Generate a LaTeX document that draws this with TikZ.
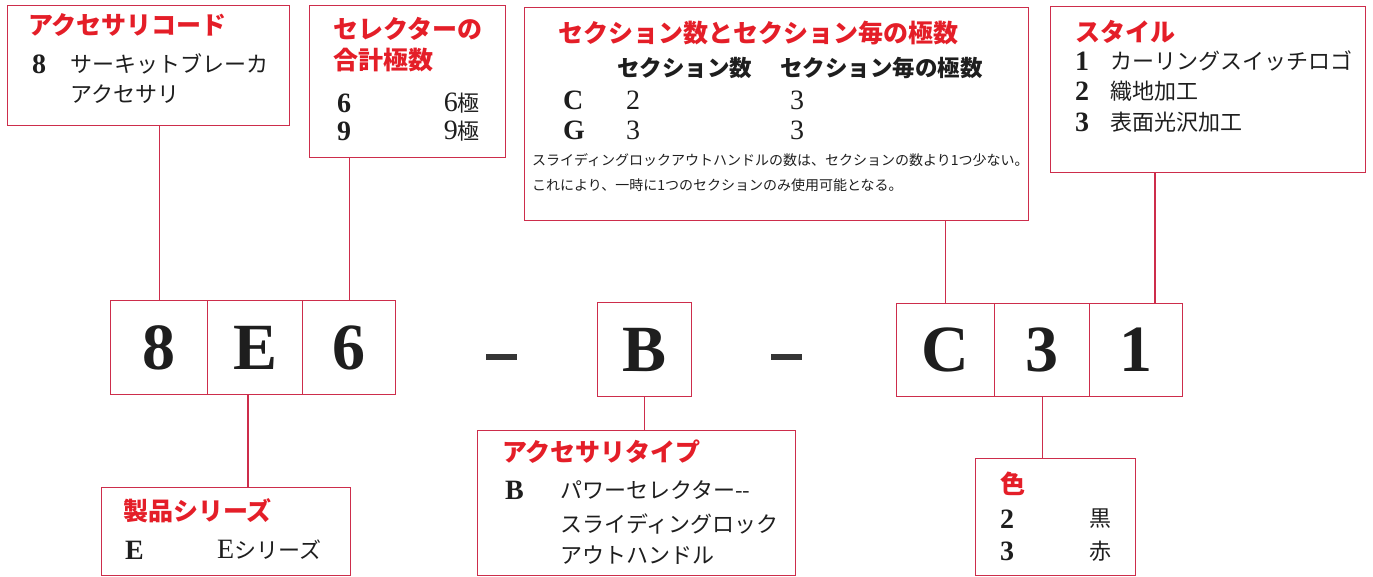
\documentclass[tikz,border=0pt]{standalone}
\usepackage{fontspec}
\setmainfont{Liberation Serif}
\newfontfamily\jp{Noto Sans CJK JP}
\definecolor{bd}{RGB}{205,45,75}
\definecolor{rt}{RGB}{228,30,40}
\definecolor{ink}{RGB}{30,30,30}
\tikzset{
  frame/.style={draw=bd, line width=1.4pt, inner sep=0pt, anchor=north west},
  cell/.style={frame, font=\bfseries\fontsize{66}{66}\selectfont, text=ink},
  conn/.style={draw=bd, line width=1.4pt},
  ttl/.style={text=rt, font=\jp\bfseries\fontsize{25}{25}\selectfont, anchor=west, inner sep=0pt},
  txt/.style={text=ink, font=\jp\fontsize{22}{22}\selectfont, anchor=west, inner sep=0pt},
  sub/.style={text=ink, font=\jp\bfseries\fontsize{22.5}{22.5}\selectfont, anchor=west, inner sep=0pt},
  small/.style={text=ink, font=\jp\fontsize{14}{14}\selectfont, anchor=west, inner sep=0pt},
  key/.style={text=ink, font=\bfseries\fontsize{28}{28}\selectfont, anchor=west, inner sep=0pt},
  val/.style={text=ink, font=\fontsize{28}{28}\selectfont, inner sep=0pt},
  dashbar/.style={fill=ink!90, inner sep=0pt, minimum width=31pt, minimum height=6pt},
}
\begin{document}
\begin{tikzpicture}[x=1pt,y=-1pt]
\useasboundingbox (0,0) rectangle (1373,577);
% top boxes
\node[frame, minimum width=282pt, minimum height=120pt] (b1) at (7,5) {};
\node[ttl] (b1t) at (28,25) {アクセサリコード};
\node[key] (b1k) at (32,64) {8};
\node[txt] (b1a) at (70,64) {サーキットブレーカ};
\node[txt] (b1b) at (70,94) {アクセサリ};

\node[frame, minimum width=196pt, minimum height=152pt] (b2) at (309,5) {};
\node[ttl] (b2t1) at (333,29) {セレクターの};
\node[ttl] (b2t2) at (333,60) {合計極数};
\node[key] (b2k1) at (337,103) {6};
\node[val, anchor=east] (b2v1) at (480,103) {6{\jp\fontsize{22}{22}\selectfont 極}};
\node[key] (b2k2) at (337,131) {9};
\node[val, anchor=east] (b2v2) at (480,131) {9{\jp\fontsize{22}{22}\selectfont 極}};

\node[frame, minimum width=504pt, minimum height=213pt] (b3) at (524,7) {};
\node[ttl] (b3t) at (558,33) {セクション数とセクション毎の極数};
\node[sub] (b3h1) at (617,68) {セクション数};
\node[sub] (b3h2) at (780,68) {セクション毎の極数};
\node[key] (b3k1) at (563,100) {C};
\node[val] (b3a1) at (633,100) {2};
\node[val] (b3b1) at (797,100) {3};
\node[key] (b3k2) at (563,130) {G};
\node[val] (b3a2) at (633,130) {3};
\node[val] (b3b2) at (797,130) {3};
\node[small] (b3s1) at (532,160) {スライディングロックアウトハンドルの数は、セクションの数より1つ少ない。};
\node[small] (b3s2) at (532,185) {これにより、一時に1つのセクションのみ使用可能となる。};

\node[frame, minimum width=315pt, minimum height=166pt] (b4) at (1050,6) {};
\node[ttl] (b4t) at (1075,32) {スタイル};
\node[key] (b4k1) at (1075,61) {1};
\node[txt] (b4a1) at (1110,61) {カーリングスイッチロゴ};
\node[key] (b4k2) at (1075,91) {2};
\node[txt] (b4a2) at (1110,91) {織地加工};
\node[key] (b4k3) at (1075,122) {3};
\node[txt] (b4a3) at (1110,122) {表面光沢加工};

% code cells
\node[cell, minimum width=97pt, minimum height=94pt] (c8) at (110,300) {8};
\node[cell, minimum width=95pt, minimum height=94pt] (cE) at (207,300) {E};
\node[cell, minimum width=93pt, minimum height=94pt] (c6) at (302,300) {6};
\node[dashbar] (d1) at (501,357) {};
\node[cell, minimum width=94pt, minimum height=94pt] (cB) at (597,302) {B};
\node[dashbar] (d2) at (786,357) {};
\node[cell, minimum width=98pt, minimum height=93pt] (cC) at (896,303) {C};
\node[cell, minimum width=95pt, minimum height=93pt] (c3) at (994,303) {3};
\node[cell, minimum width=93pt, minimum height=93pt] (c1) at (1089,303) {1};

% bottom boxes
\node[frame, minimum width=249pt, minimum height=88pt] (ser) at (101,487) {};
\node[ttl] (sert) at (123,511) {製品シリーズ};
\node[key] (serk) at (125,550) {E};
\node[val, anchor=west] (serv) at (217,550) {E{\jp\fontsize{22}{22}\selectfont シリーズ}};

\node[frame, minimum width=318pt, minimum height=145pt] (typ) at (477,430) {};
\node[ttl] (typt) at (502,452) {アクセサリタイプ};
\node[key] (typk) at (505,490) {B};
\node[txt] (typa) at (560,490) {パワーセレクター--};
\node[txt] (typb) at (560,524) {スライディングロック};
\node[txt] (typc) at (560,555) {アウトハンドル};

\node[frame, minimum width=160pt, minimum height=117pt] (col) at (975,458) {};
\node[ttl] (colt) at (1000,484) {色};
\node[key] (colk1) at (1000,519) {2};
\node[txt, anchor=center] (colv1) at (1100,519) {黒};
\node[key] (colk2) at (1000,551) {3};
\node[txt, anchor=center] (colv2) at (1100,551) {赤};

% connectors
\coordinate (k4) at (1155,0);
\coordinate (kE) at (248,0);
\draw[conn] (b1.south -| c8.north) -- (c8.north);
\draw[conn] (b2.south -| c6.north) -- (c6.north);
\draw[conn] (b3.south -| cC.north) -- (cC.north);
\draw[conn] (b4.south -| k4) -- (c1.north -| k4);
\draw[conn] (cE.south -| kE) -- (ser.north -| kE);
\draw[conn] (cB.south) -- (typ.north -| cB.south);
\draw[conn] (c3.south) -- (col.north -| c3.south);
\end{tikzpicture}
\end{document}
